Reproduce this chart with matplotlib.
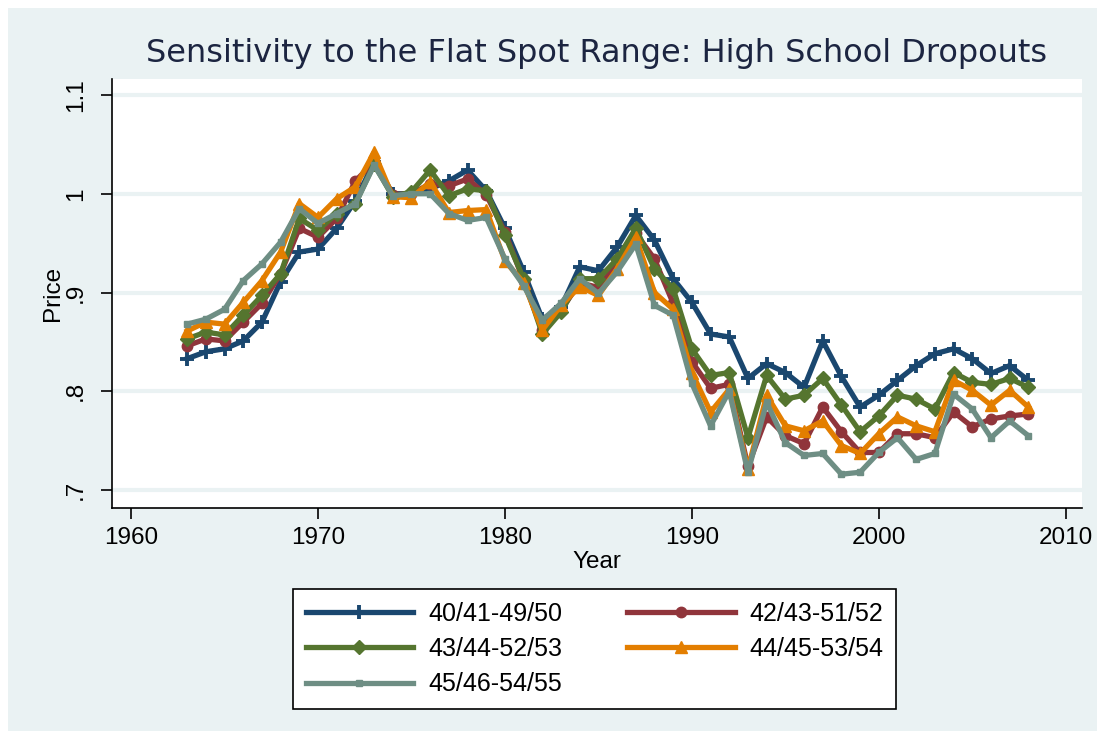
import matplotlib
matplotlib.use('Agg')
from matplotlib import pyplot as plt
from matplotlib.patches import Rectangle

plt.rcParams['font.family'] = ['Liberation Sans', 'DejaVu Sans']

years = list(range(1963, 2009))

s_40_50 = [0.833, 0.840, 0.843, 0.851, 0.870, 0.911, 0.941, 0.944, 0.965, 0.993,
           1.032, 1.000, 1.000, 1.005, 1.013, 1.024, 1.003, 0.965, 0.921, 0.873,
           0.885, 0.926, 0.922, 0.946, 0.978, 0.953, 0.914, 0.890, 0.858, 0.855,
           0.813, 0.828, 0.819, 0.804, 0.851, 0.815, 0.784, 0.796, 0.811, 0.826,
           0.838, 0.843, 0.833, 0.818, 0.826, 0.811]
s_42_52 = [0.846, 0.853, 0.851, 0.870, 0.889, 0.919, 0.965, 0.956, 0.975, 1.013,
           1.032, 0.999, 1.000, 1.010, 1.008, 1.015, 0.999, 0.961, 0.912, 0.862,
           0.882, 0.910, 0.905, 0.930, 0.960, 0.934, 0.889, 0.830, 0.803, 0.807,
           0.724, 0.774, 0.755, 0.747, 0.784, 0.759, 0.738, 0.738, 0.757, 0.757,
           0.753, 0.779, 0.764, 0.772, 0.775, 0.777]
s_43_53 = [0.853, 0.860, 0.857, 0.877, 0.897, 0.919, 0.975, 0.963, 0.980, 0.990,
           1.030, 0.997, 1.002, 1.024, 0.998, 1.005, 1.003, 0.958, 0.914, 0.858,
           0.880, 0.914, 0.914, 0.934, 0.965, 0.924, 0.904, 0.843, 0.816, 0.819,
           0.753, 0.816, 0.792, 0.796, 0.813, 0.786, 0.759, 0.775, 0.796, 0.792,
           0.782, 0.819, 0.809, 0.807, 0.813, 0.804]
s_44_54 = [0.861, 0.870, 0.868, 0.890, 0.912, 0.941, 0.990, 0.976, 0.995, 1.007,
           1.042, 0.997, 0.996, 1.012, 0.981, 0.983, 0.984, 0.932, 0.910, 0.862,
           0.887, 0.906, 0.897, 0.924, 0.956, 0.900, 0.883, 0.819, 0.779, 0.802,
           0.721, 0.796, 0.765, 0.760, 0.770, 0.745, 0.737, 0.757, 0.774, 0.765,
           0.759, 0.811, 0.801, 0.786, 0.801, 0.784]
s_45_55 = [0.868, 0.873, 0.883, 0.912, 0.929, 0.951, 0.985, 0.970, 0.980, 0.990,
           1.029, 0.998, 1.000, 1.000, 0.980, 0.973, 0.976, 0.934, 0.907, 0.872,
           0.889, 0.914, 0.899, 0.921, 0.949, 0.887, 0.877, 0.808, 0.765, 0.800,
           0.718, 0.789, 0.748, 0.735, 0.737, 0.716, 0.718, 0.738, 0.753, 0.731,
           0.737, 0.797, 0.782, 0.753, 0.770, 0.755]

labels = ['40/41-49/50', '42/43-51/52', '43/44-52/53', '44/45-53/54', '45/46-54/55']
colors = ['#1a476f', '#90353b', '#55752f', '#e37e00', '#6e8e84']
markers = ['+', 'o', 'D', '^', 's']
msizes = [10, 7.5, 7.5, 8, 4]

xticks = [1960, 1970, 1980, 1990, 2000, 2010]
yticks = [0.7, 0.8, 0.9, 1.0, 1.1]
ytick_labels = ['.7', '.8', '.9', '1', '1.1']

bg = '#eaf2f3'
W, H = 1104, 738
fig = plt.figure(figsize=(W / 100, H / 100), dpi=100, facecolor='white')
# stata-style graph region, with a thin white margin round it
fig.patches.append(Rectangle((8 / W, 7 / H), (1097 - 8) / W, (731 - 8) / H,
                             transform=fig.transFigure, facecolor=bg,
                             edgecolor='none', zorder=-10))

ax = fig.add_axes([112 / W, 1 - 508 / H, (1082 - 112) / W, (508 - 79) / H])
ax.set_facecolor('white')

series = [s_40_50, s_42_52, s_43_53, s_44_54, s_45_55]
handles = []
for vals, lab, c, m, ms in zip(series, labels, colors, markers, msizes):
    mew = 2.8 if m == '+' else 1
    h, = ax.plot(years, vals, color=c, lw=3.8, marker=m, markersize=ms,
                 markeredgewidth=mew, markeredgecolor=c, label=lab)
    handles.append(h)

ax.set_xlim(1958.98, 2010.87)
ax.set_ylim(0.6818, 1.1162)
ax.set_xticks(xticks)
ax.set_yticks(yticks)
ax.set_yticklabels(ytick_labels, rotation=90, va='center')
ax.tick_params(axis='both', labelsize=17.5, length=8, width=1.2, colors='black',
               pad=6)
ax.tick_params(axis='y', pad=10)
ax.yaxis.grid(True, color=bg, lw=3)
ax.set_axisbelow(True)
for side in ['top', 'right']:
    ax.spines[side].set_visible(False)
for side in ['left', 'bottom']:
    ax.spines[side].set_linewidth(1.2)

ax.set_xlabel('Year', fontsize=17.5, labelpad=1)
ax.set_ylabel('Price', fontsize=17.5, labelpad=1)
ax.set_title('Sensitivity to the Flat Spot Range: High School Dropouts',
             fontsize=23, color='#1c2541', pad=12, family='DejaVu Sans')

order = [0, 2, 4, 1, 3]
leg = fig.legend([handles[i] for i in order], [labels[i] for i in order],
                 loc='center', bbox_to_anchor=(594.5 / W, 1 - 649 / H),
                 ncol=2, fontsize=18, frameon=True, fancybox=False,
                 framealpha=1, facecolor='white',
                 handlelength=4.3, handletextpad=0.6, columnspacing=2.6,
                 labelspacing=0.45, borderpad=0.5)
leg.get_frame().set_edgecolor('black')
leg.get_frame().set_linewidth(1.2)

fig.savefig('out.png', dpi=100, facecolor='white')
